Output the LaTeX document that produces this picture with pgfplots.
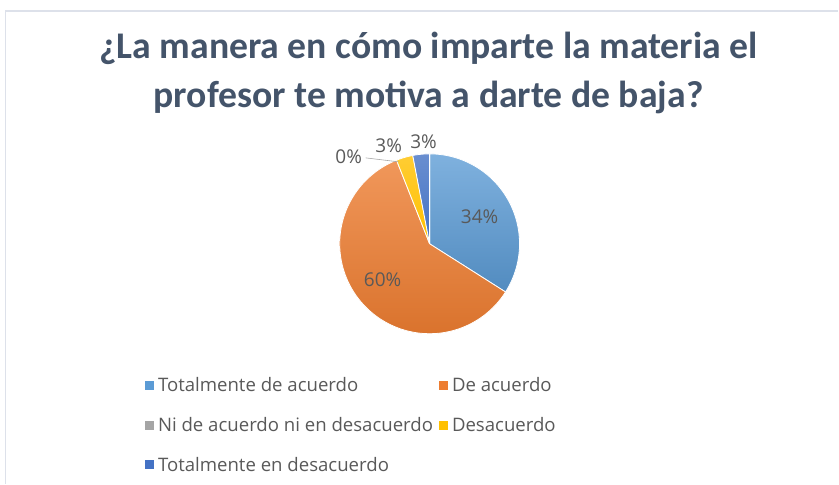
\documentclass[border=0pt]{standalone}
\usepackage{pgfplots}
\usepackage{pgfplotstable}
\pgfplotsset{compat=1.18}
\usepackage{fontspec}
\setmainfont{Open Sans}
\newfontfamily\titlefont{Carlito}
\definecolor{cA}{HTML}{5B9BD5}
\definecolor{cB}{HTML}{ED7D31}
\definecolor{cC}{HTML}{A5A5A5}
\definecolor{cD}{HTML}{FFC000}
\definecolor{cE}{HTML}{4472C4}
\definecolor{titlec}{HTML}{44546A}
\definecolor{txt}{HTML}{595959}
\definecolor{bordc}{HTML}{DDE1EA}

\pgfplotstableread{
value
34
60
0
3
3
}\piedata

\begin{document}
\begin{tikzpicture}
\pgfplotstablegetelem{0}{value}\of\piedata \global\let\vA\pgfplotsretval
\pgfplotstablegetelem{1}{value}\of\piedata \global\let\vB\pgfplotsretval
\pgfplotstablegetelem{2}{value}\of\piedata \global\let\vC\pgfplotsretval
\pgfplotstablegetelem{3}{value}\of\piedata \global\let\vD\pgfplotsretval
\pgfplotstablegetelem{4}{value}\of\piedata \global\let\vE\pgfplotsretval
\pgfmathsetmacro\aA{90}
\pgfmathsetmacro\aB{\aA-3.6*\vA}
\pgfmathsetmacro\aC{\aB-3.6*\vB}
\pgfmathsetmacro\aD{\aC-3.6*\vC}
\pgfmathsetmacro\aE{\aD-3.6*\vD}
\pgfmathsetmacro\aF{\aE-3.6*\vE}
\begin{axis}[
  scale only axis, width=839pt, height=484pt,
  xmin=0, xmax=839, ymin=0, ymax=484, y dir=reverse,
  hide axis, clip=false,
  legend columns=2,
  legend cell align=left,
  legend style={at={(axis cs:145,376)}, anchor=north west, draw=none, fill=none,
     font=\fontsize{18.6}{21}\selectfont, text=txt, inner sep=0pt,
     row sep=20pt, /tikz/every even column/.append style={column sep=4pt}},
  legend image code/.code={\fill[#1] (0pt,-4.5pt) rectangle (9pt,4.5pt); \path (11pt,0pt);},
]
\path (axis cs:0,0) rectangle (axis cs:839,484);
\draw[bordc, line width=1.5pt] (axis cs:5.5,484) -- (axis cs:5.5,11) -- (axis cs:839,11);

\addplot[forget plot, top color=cA!78!white, bottom color=cA!90!black, draw=white, line width=0.8pt, domain=\aB:\aA, samples=80] ({430+90*cos(x)},{244-90*sin(x)}) -- (axis cs:430,244) -- cycle;
\addplot[forget plot, top color=cB!80!white, bottom color=cB!92!black, draw=white, line width=0.8pt, domain=\aC:\aB, samples=120] ({430+90*cos(x)},{244-90*sin(x)}) -- (axis cs:430,244) -- cycle;
\addplot[forget plot, top color=cD!80!white, bottom color=cD, draw=white, line width=0.8pt, domain=\aE:\aD, samples=10] ({430+90*cos(x)},{244-90*sin(x)}) -- (axis cs:430,244) -- cycle;
\addplot[forget plot, top color=cE!80!white, bottom color=cE, draw=white, line width=0.8pt, domain=\aF:\aE, samples=10] ({430+90*cos(x)},{244-90*sin(x)}) -- (axis cs:430,244) -- cycle;

\addlegendimage{fill=cA, draw=none}
\addlegendentry{Totalmente de acuerdo}
\addlegendimage{fill=cB, draw=none}
\addlegendentry{De acuerdo}
\addlegendimage{fill=cC, draw=none}
\addlegendentry{Ni de acuerdo ni en desacuerdo}
\addlegendimage{fill=cD, draw=none}
\addlegendentry{Desacuerdo}
\addlegendimage{fill=cE, draw=none}
\addlegendentry{Totalmente en desacuerdo}

\draw[black!35, line width=0.6pt] (axis cs:366,158) -- (axis cs:399,162);

\node[font=\fontsize{19}{22}\selectfont, text=txt] at (axis cs:480,217) {34\%};
\node[font=\fontsize{19}{22}\selectfont, text=txt] at (axis cs:383,280) {60\%};
\node[font=\fontsize{19}{22}\selectfont, text=txt] at (axis cs:349,157) {0\%};
\node[font=\fontsize{19}{22}\selectfont, text=txt] at (axis cs:389,146) {3\%};
\node[font=\fontsize{19}{22}\selectfont, text=txt] at (axis cs:424,142) {3\%};

\node[font=\titlefont\bfseries\fontsize{37.7}{49}\selectfont, text=titlec, align=center] at (axis cs:429,73) {¿La manera en cómo imparte la materia el\\profesor te motiva a darte de baja?};
\end{axis}
\end{tikzpicture}
\end{document}
